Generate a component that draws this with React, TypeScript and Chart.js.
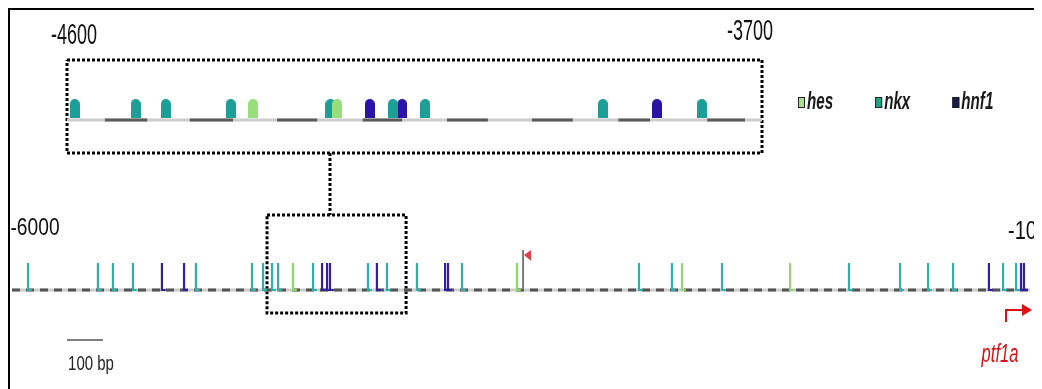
import React, { useEffect, useRef } from "react";
import { Chart, registerables } from "chart.js";
Chart.register(...registerables);

// ---------- data ----------
const motifTypes = ["hes", "nkx", "hnf1"];

// zoomed window (bp)
const zoomRange = [-4600, -3700];
const zoomHes = [-4359, -4250];
const zoomNkx = [-4590, -4511, -4472, -4388, -4259, -4178, -4136, -3906, -3778];
const zoomHnf1 = [-4208, -4166, -3836];
const zoomSegStarts = [-4551, -4441, -4328, -4217, -4108, -3998, -3886, -3771];
const zoomSegEnds = [-4496, -4385, -4276, -4166, -4055, -3945, -3845, -3722];

// full promoter region (bp)
const fullRange = [-6000, -100];
const fullHes = [-4371, -3073, -2117, -1491];
const fullNkx = [-5907, -5502, -5415, -5299, -4934, -4609, -4545, -4493, -4458, -4255,
  -3937, -3827, -3653, -3392, -2366, -2175, -1885, -1149, -853, -691, -546, -256, -181];
const fullHnf1 = [-5131, -5003, -4203, -4174, -4157, -3885, -3490, -3473, -338, -152, -135];
const fullOther = [-3038];
const boxInFull = [-4522, -3716];
const linkAt = [-4157];
const scaleBar = [-5681, -5473];
const scaleBarLabel = "100 bp";
const tss = [-239];
const geneName = "ptf1a";
const topTicks = [-4600, -3700];
const bottomTicks = [-6000, -100];

// ---------- styles ----------
const bulletColors = ["#98de7c", "#1c9f96", "#2a14a8"];
const stickColors = ["#8fd86f", "#2db0aa", "#34209c"];
const legendColors = ["#a6e090", "#1fa588", "#1b1a4e"];

const W = 1026;
const H = 396;
const TOP_Y = 110;
const BULLET_Y = 98.5;
const TOP_BOX = [50, 143];
const BOT_Y = 280;
const STICK_TOP = 253;
const OTHER_TOP = 240;
const BOT_BOX = [205, 303];
const SCALE_Y = 330;
const FOOT_BP = 22;

function scaleFor(v0: number, p0: number, v1: number, p1: number) {
  const k = (p1 - p0) / (v1 - v0);
  const min = v0 - p0 / k;
  return { min, max: min + W / k };
}

function vsegs(xs: number[], y0: number, y1: number, foot = 0) {
  return xs.flatMap((x) =>
    foot
      ? [{ x, y: y1 }, { x, y: y0 }, { x: x + foot, y: y0 }, { x, y: null }]
      : [{ x, y: y0 }, { x, y: y1 }, { x, y: null }]
  );
}
function hsegs(a: number[], b: number[], y: number) {
  return a.flatMap((x, i) => [{ x, y }, { x: b[i], y }, { x: b[i], y: null }]);
}
function rect(x0: number, x1: number, y0: number, y1: number) {
  return [
    { x: x0, y: y0 }, { x: x1, y: y0 }, { x: x1, y: y1 }, { x: x0, y: y1 }, { x: x0, y: y0 },
  ];
}

function bullet(color: string) {
  const c = document.createElement("canvas");
  c.width = 10;
  c.height = 19;
  const g = c.getContext("2d")!;
  g.fillStyle = color;
  g.beginPath();
  g.moveTo(0, 19);
  g.lineTo(0, 5);
  g.arc(5, 5, 5, Math.PI, 0);
  g.lineTo(10, 19);
  g.closePath();
  g.fill();
  return c;
}

function drawText(
  ctx: CanvasRenderingContext2D, text: string, x: number, y: number,
  o: { size: number; sx: number; sy?: number; italic?: boolean; bold?: boolean; color?: string; align?: CanvasTextAlign }
) {
  ctx.save();
  ctx.translate(x, y);
  ctx.scale(o.sx, o.sy ?? 1);
  ctx.font = `${o.italic ? "italic " : ""}${o.bold ? "bold " : ""}${o.size}px 'Liberation Sans', Arial, sans-serif`;
  ctx.fillStyle = o.color ?? "#111";
  ctx.textAlign = o.align ?? "center";
  ctx.textBaseline = "middle";
  ctx.fillText(text, 0, 0);
  ctx.restore();
}

export default function App() {
  const ref = useRef<HTMLCanvasElement>(null);

  useEffect(() => {
    document.documentElement.style.overflow = "hidden";
    const canvas = ref.current!;
    const xt = scaleFor(zoomRange[0], 57, zoomRange[1], 752);
    const xb = scaleFor(fullRange[0], 2, fullRange[1], 1020);
    const bulletImgs = bulletColors.map(bullet);
    const zoomSets = [zoomHes, zoomNkx, zoomHnf1];
    const fullSets = [fullHes, fullNkx, fullHnf1];

    const lineBase = {
      showLine: true, pointRadius: 0, spanGaps: false, tension: 0, fill: false,
      borderCapStyle: "butt" as const, yAxisID: "y",
    };

    const datasets: any[] = [];
    zoomSets.forEach((xs, i) => {
      datasets.push({
        label: motifTypes[i], xAxisID: "xt", yAxisID: "y",
        data: xs.map((x) => ({ x, y: BULLET_Y })),
        pointStyle: bulletImgs[i], pointRadius: 5, showLine: false,
      });
    });
    fullSets.forEach((xs, i) => {
      datasets.push({
        ...lineBase, label: motifTypes[i] + " (full)", xAxisID: "xb",
        data: vsegs(xs, BOT_Y, STICK_TOP, FOOT_BP), borderColor: stickColors[i], borderWidth: 2.2,
        borderJoinStyle: "miter",
      });
    });
    datasets.push({
      ...lineBase, label: "other", xAxisID: "xb",
      data: vsegs(fullOther, BOT_Y, OTHER_TOP), borderColor: "#7a7a7a", borderWidth: 2,
    });
    datasets.push({
      ...lineBase, label: "seg", xAxisID: "xt",
      data: hsegs(zoomSegStarts, zoomSegEnds, TOP_Y), borderColor: "#5a5a5a", borderWidth: 3,
    });
    datasets.push({
      ...lineBase, label: "zoom line", xAxisID: "xt",
      data: [{ x: zoomRange[0], y: TOP_Y }, { x: zoomRange[1], y: TOP_Y }],
      borderColor: "#cdcdcd", borderWidth: 3,
    });
    datasets.push({
      ...lineBase, label: "full dash", xAxisID: "xb",
      data: [{ x: fullRange[0], y: BOT_Y }, { x: fullRange[1], y: BOT_Y }],
      borderColor: "#555555", borderWidth: 3, borderDash: [8, 6],
    });
    datasets.push({
      ...lineBase, label: "full line", xAxisID: "xb",
      data: [{ x: fullRange[0], y: BOT_Y }, { x: fullRange[1], y: BOT_Y }],
      borderColor: "#cccccc", borderWidth: 3,
    });
    datasets.push({
      ...lineBase, label: "top box", xAxisID: "xt",
      data: rect(zoomRange[0], zoomRange[1], TOP_BOX[0], TOP_BOX[1]),
      borderColor: "#000", borderWidth: 3, borderDash: [3, 2],
    });
    datasets.push({
      ...lineBase, label: "bottom box", xAxisID: "xb",
      data: rect(boxInFull[0], boxInFull[1], BOT_BOX[0], BOT_BOX[1]),
      borderColor: "#000", borderWidth: 3, borderDash: [3, 2],
    });
    datasets.push({
      ...lineBase, label: "link", xAxisID: "xb",
      data: vsegs(linkAt, TOP_BOX[1], BOT_BOX[0]),
      borderColor: "#000", borderWidth: 3, borderDash: [3, 2],
    });
    datasets.push({
      ...lineBase, label: "scale bar", xAxisID: "xb",
      data: [{ x: scaleBar[0], y: SCALE_Y }, { x: scaleBar[1], y: SCALE_Y }],
      borderColor: "#555", borderWidth: 1.5,
    });

    const annotate = {
      id: "annotate",
      afterDatasetsDraw(chart: any) {
        const ctx = chart.ctx as CanvasRenderingContext2D;
        const sT = chart.scales.xt;
        const sB = chart.scales.xb;
        // axis end labels
        drawText(ctx, String(topTicks[0]), sT.getPixelForValue(topTicks[0]) + 7, 26, { size: 29, sx: 0.62 });
        drawText(ctx, String(topTicks[1]), sT.getPixelForValue(topTicks[1]) - 12, 22, { size: 29, sx: 0.62 });
        drawText(ctx, String(bottomTicks[0]), sB.getPixelForValue(bottomTicks[0]) + 23, 218, { size: 24, sx: 0.8 });
        drawText(ctx, String(bottomTicks[1]), sB.getPixelForValue(bottomTicks[1]) - 22, 222, { size: 25, sx: 0.8, align: "left" });

        // legend
        let lx = 788;
        const ly = 92;
        motifTypes.forEach((name, i) => {
          ctx.fillStyle = legendColors[i];
          ctx.fillRect(lx, ly - 5, 7, 11);
          ctx.strokeStyle = "#222";
          ctx.lineWidth = 1;
          ctx.strokeRect(lx + 0.5, ly - 4.5, 6, 10);
          ctx.save();
          ctx.font = "italic bold 23px 'Liberation Sans', Arial, sans-serif";
          const w = ctx.measureText(name).width * 0.66;
          ctx.restore();
          drawText(ctx, name, lx + 9, ly, { size: 23, sx: 0.66, sy: 1.05, italic: true, bold: true, align: "left", color: "#1a1a1a" });
          lx += 9 + w + 42;
        });

        // flag on the unclassified site
        fullOther.forEach((v) => {
          const px = sB.getPixelForValue(v);
          ctx.fillStyle = "#e0404a";
          ctx.beginPath();
          ctx.moveTo(px + 1, OTHER_TOP + 5);
          ctx.lineTo(px + 8, OTHER_TOP);
          ctx.lineTo(px + 8, OTHER_TOP + 11);
          ctx.closePath();
          ctx.fill();
        });

        // scale bar label
        drawText(ctx, scaleBarLabel, sB.getPixelForValue(scaleBar[0]) + 1, 354, { size: 20, sx: 0.75, sy: 1.05, align: "left", color: "#222" });

        // transcription start arrow
        tss.forEach((v) => {
          const px = sB.getPixelForValue(v);
          ctx.strokeStyle = "#e01010";
          ctx.lineWidth = 2;
          ctx.beginPath();
          ctx.moveTo(px, 312);
          ctx.lineTo(px, 300);
          ctx.lineTo(px + 17, 300);
          ctx.stroke();
          ctx.fillStyle = "#e01010";
          ctx.beginPath();
          ctx.moveTo(px + 16, 294);
          ctx.lineTo(px + 26, 300);
          ctx.lineTo(px + 16, 306);
          ctx.closePath();
          ctx.fill();
          drawText(ctx, geneName, px - 6, 345, { size: 23, sx: 0.72, sy: 1.1, italic: true, color: "#d41414" });
        });
      },
    };

    const chart = new Chart(canvas, {
      type: "scatter",
      data: { datasets },
      options: {
        animation: false,
        responsive: false,
        events: [],
        layout: { padding: 0, autoPadding: false },
        plugins: { legend: { display: false }, tooltip: { enabled: false } },
        scales: {
          xt: { type: "linear", axis: "x", display: false, min: xt.min, max: xt.max },
          xb: { type: "linear", axis: "x", display: false, min: xb.min, max: xb.max },
          y: { type: "linear", display: false, min: 0, max: H, reverse: true },
        },
      },
      plugins: [annotate],
    });
    return () => chart.destroy();
  }, []);

  return (
    <div
      style={{
        width: 1030, height: 400, boxSizing: "border-box",
        border: "2px solid #000", background: "#fff", overflow: "hidden",
      }}
    >
      <canvas ref={ref} width={W} height={H} style={{ display: "block" }} />
    </div>
  );
}
